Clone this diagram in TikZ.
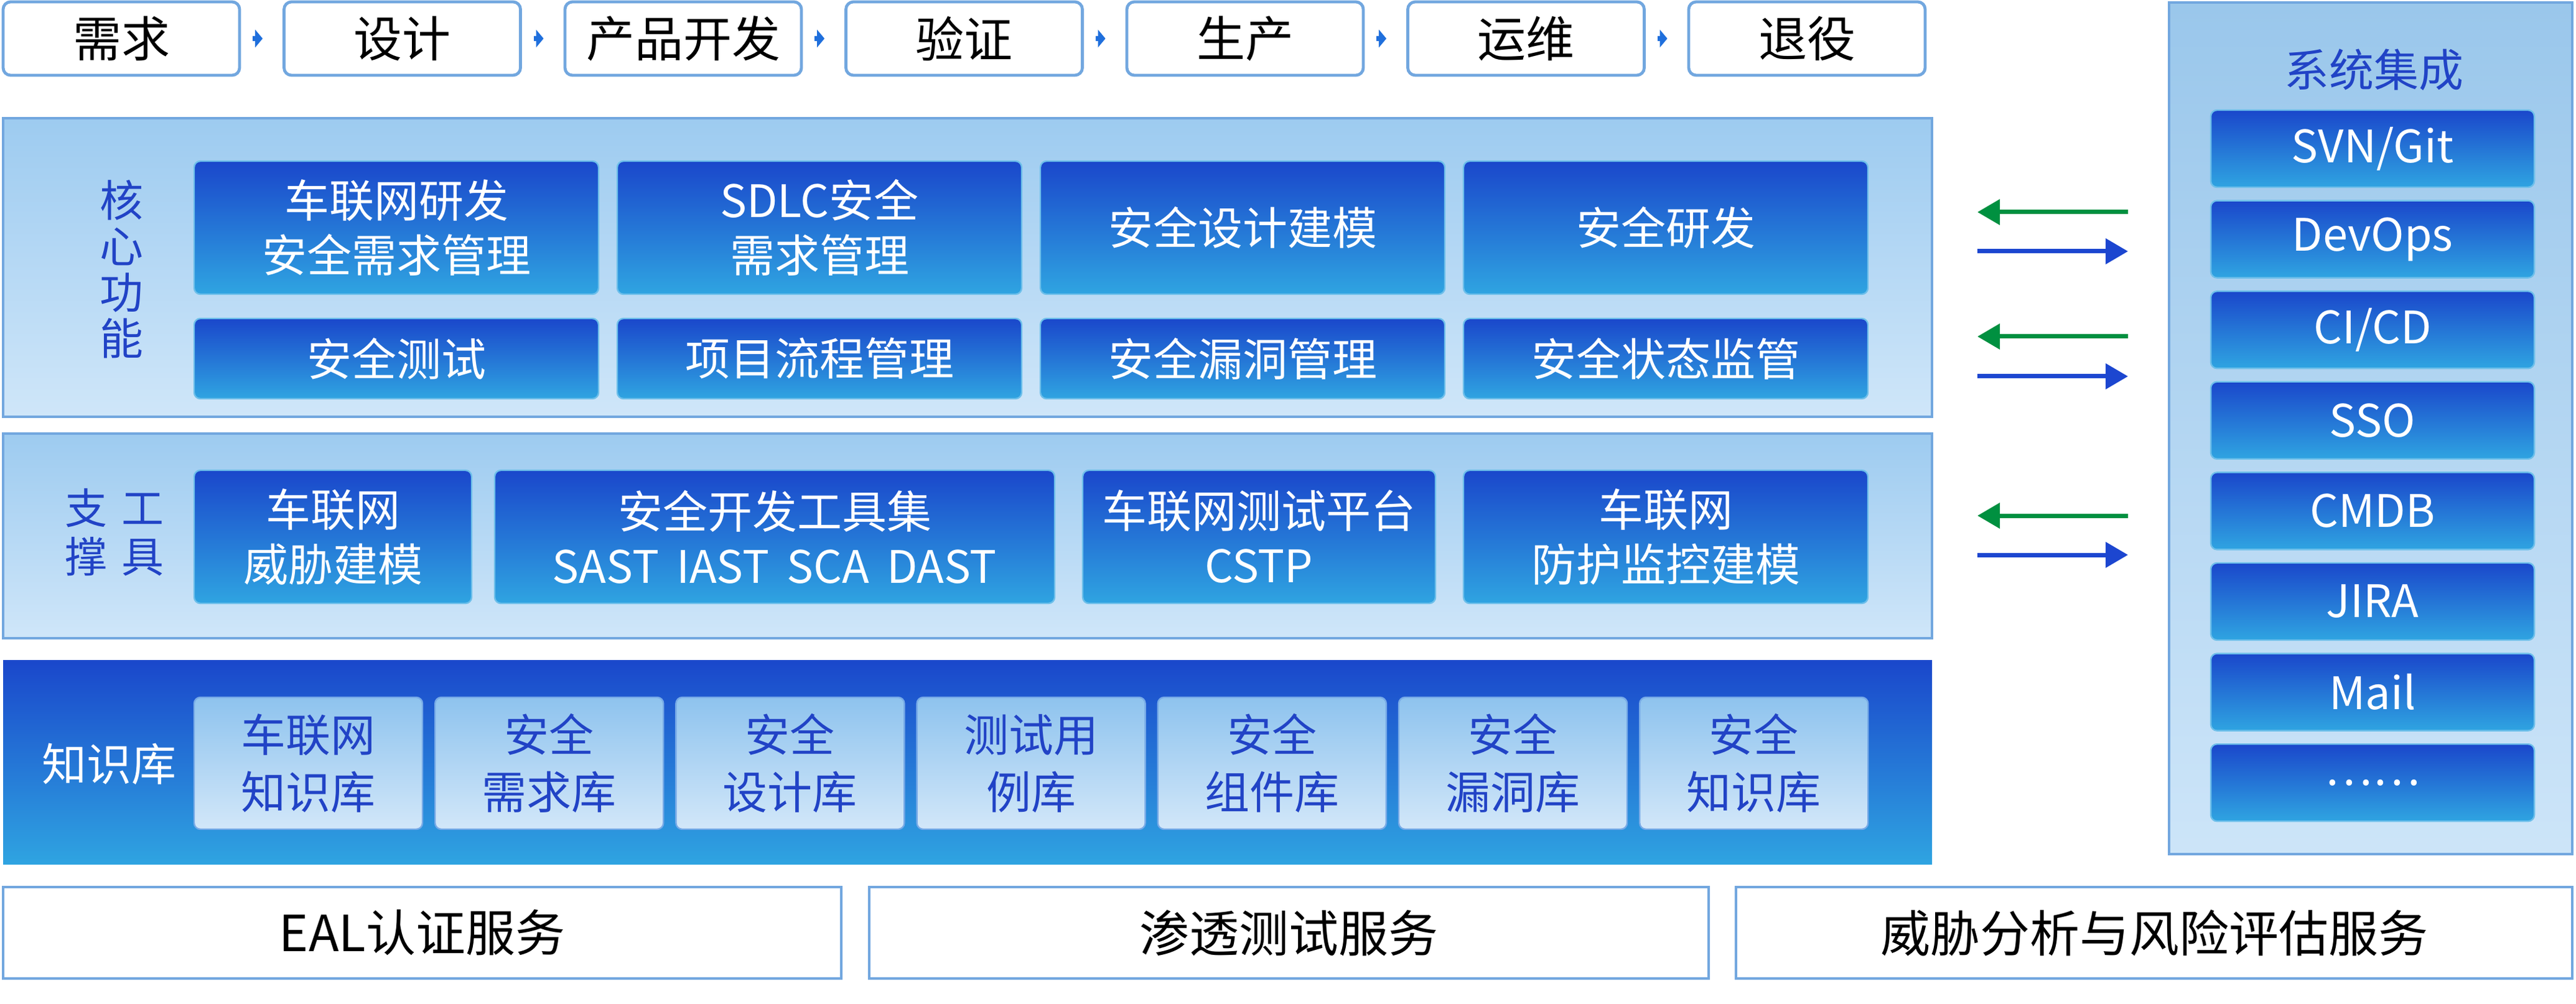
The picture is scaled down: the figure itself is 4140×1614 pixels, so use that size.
\documentclass[tikz,border=0pt]{standalone}
\usepackage{fontspec}
\setmainfont{Noto Sans CJK SC}
\usetikzlibrary{arrows.meta}
\definecolor{edgeblue}{HTML}{72A7DF}
\definecolor{paneltop}{HTML}{9DCBF0}
\definecolor{panelbot}{HTML}{CFE6F9}
\definecolor{darktop}{HTML}{1A47CB}
\definecolor{darkbot}{HTML}{2FA4E1}
\definecolor{libtop}{HTML}{8EC3EE}
\definecolor{libbot}{HTML}{D2E7F9}
\definecolor{labelblue}{HTML}{2143C6}
\definecolor{flowblue}{HTML}{1F6FDC}
\definecolor{pullgreen}{HTML}{009040}
\definecolor{pushblue}{HTML}{1C46D0}
\begin{document}
\begin{tikzpicture}
[
    x=0.25pt, y=-0.25pt,
    stage/.style={draw=edgeblue, line width=1.2pt, rounded corners=3pt, fill=white,
        minimum width=95pt, minimum height=29.5pt, font=\fontsize{19.5}{22}\selectfont},
    flow/.style={flowblue, line width=2pt, -{Triangle[length=3pt,width=7pt]}},
    panel/.style={draw=edgeblue, line width=1pt, top color=paneltop, bottom color=panelbot},
    func/.style={draw=darkbot!70!white, line width=0.6pt, rounded corners=2.5pt,
        top color=darktop, bottom color=darkbot, text=white, align=center,
        minimum width=162.5pt, font=\fontsize{18}{22}\selectfont},
    lib/.style={draw=libtop!80!darktop, line width=0.6pt, rounded corners=2.5pt,
        top color=libtop, bottom color=libbot, text=labelblue, align=center,
        minimum width=91.75pt, minimum height=53pt, font=\fontsize{18}{23}\selectfont},
    label/.style={text=labelblue, align=center, font=\fontsize{17.5}{18.5}\selectfont},
    service/.style={draw=edgeblue, line width=1pt, fill=white,
        minimum height=36.75pt, font=\fontsize{20}{22}\selectfont},
    pull/.style={pullgreen, line width=1.75pt, -{Triangle[length=9pt,width=10pt]}},
    push/.style={pushblue, line width=1.75pt, -{Triangle[length=9pt,width=10pt]}},
]
\useasboundingbox (0,0) rectangle (4140,1614);

% life cycle
\foreach \t [count=\i from 0] in {需求,设计,产品开发,验证,生产,运维,退役}
    \node[stage] (s\i) at (195+451.5*\i,62) {\t};
\foreach \i [evaluate=\i as \j using int(\i+1)] in {0,...,5}
    \draw[flow] ([xshift=4.75pt]s\i.east) -- ([xshift=-8pt]s\j.west);

% core functions
\node[panel, minimum width=775pt, minimum height=120pt] (core) at (1555,430) {};
\node[label] (corelabel) at (195,433) {核\\心\\功\\能};
\foreach \t [count=\i from 0] in {车联网研发\\安全需求管理, SDLC安全\\需求管理, 安全设计建模, 安全研发}
    \node[func, minimum height=53.5pt] (fa\i) at (637+680*\i,366) {\t};
\foreach \t [count=\i from 0] in {安全测试, 项目流程管理, 安全漏洞管理, 安全状态监管}
    \node[func, minimum height=32.25pt] (fb\i) at (637+680*\i,576.5) {\t};

% tools
\node[panel, minimum width=775pt, minimum height=82.25pt] (tools) at (1555,861.5) {};
\node[label, font=\fontsize{17}{19.5}\selectfont] (toolslabel) at (184,856) {支\hspace{6pt}工\\撑\hspace{6pt}具};
\node[func, minimum width=111.5pt, minimum height=53.5pt] (t0) at (535,863) {车联网\\威胁建模};
\node[func, minimum width=225pt, minimum height=53.5pt] (t1) at (1245,863)
    {安全开发工具集\\SAST\hspace{7pt}IAST\hspace{7pt}SCA\hspace{7pt}DAST};
\node[func, minimum width=141.75pt, minimum height=53.5pt] (t2) at (2023.5,863) {车联网测试平台\\CSTP};
\node[func, minimum height=53.5pt] (t3) at (2677,863) {车联网\\防护监控建模};

% knowledge base
\node[func, rounded corners=0pt, draw=none, minimum width=775pt, minimum height=82pt] (know) at (1555,1225) {};
\node[text=white, font=\fontsize{18}{20}\selectfont] (knowlabel) at (175,1228) {知识库};
\foreach \t [count=\i from 0] in {车联网\\知识库, 安全\\需求库, 安全\\设计库, 测试用\\例库, 安全\\组件库, 安全\\漏洞库, 安全\\知识库}
    \node[lib] (k\i) at (495.5+387.2*\i,1227) {\t};

% services
\node[service, minimum width=336.75pt] (e0) at (678.5,1499.5) {EAL认证服务};
\node[service, minimum width=337.25pt] (e1) at (2071.5,1499.5) {渗透测试服务};
\node[service, minimum width=336pt] (e2) at (3462,1499.5) {威胁分析与风险评估服务};

% integration
\node[panel, top color=paneltop!98!black, bottom color=panelbot!95!paneltop, minimum width=162pt, minimum height=342.25pt] (sys) at (3810,688.5) {};
\node[label, font=\fontsize{18}{20}\selectfont] (syslabel) at (3815,112) {系统集成};
\foreach \t [count=\i from 0] in {SVN/Git, DevOps, CI/CD, SSO, CMDB, JIRA, Mail, ……}
    \node[func, minimum width=130pt, minimum height=31pt] (y\i) at (3813,239+145.6*\i) {\t};

% data exchange
\foreach \a/\b [count=\i] in {341/404, 541/605, 829/892} {
    \coordinate (gs\i) at (3420,\a); \coordinate (ge\i) at (3178,\a);
    \coordinate (bs\i) at (3178,\b); \coordinate (be\i) at (3420,\b);
    \draw[pull] (gs\i) -- (ge\i);
    \draw[push] (bs\i) -- (be\i);
}
\end{tikzpicture}
\end{document}
